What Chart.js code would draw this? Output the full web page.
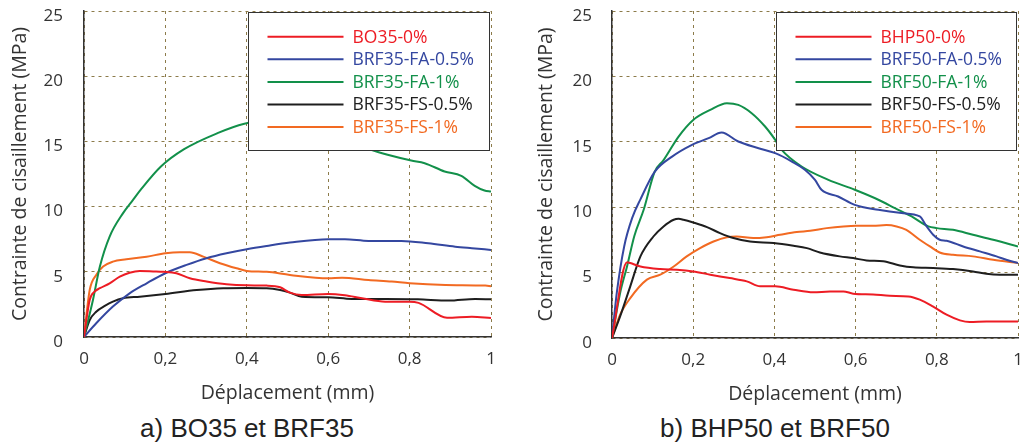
<!DOCTYPE html>
<html>
<head>
<meta charset="utf-8">
<script src="https://cdn.jsdelivr.net/npm/chart.js@4.4.1/dist/chart.umd.min.js"></script>
<style>
  html, body { margin: 0; padding: 0; background: #fff; }
  body { width: 1023px; height: 445px; position: relative; overflow: hidden; }
  .box { position: absolute; top: 0; height: 410px; }
  .cap { position: absolute; font-family: "Liberation Sans", Arial, sans-serif; font-size: 26px; color: #222;
         text-align: center; width: 400px; line-height: 30px; top: 413px; white-space: nowrap; }
</style>
</head>
<body>
<div class="box" style="left:0;width:510px"><canvas id="c1"></canvas></div>
<div class="box" style="left:520px;width:503px"><canvas id="c2"></canvas></div>
<div class="cap" style="left:47px">a) BO35 et BRF35</div>
<div class="cap" style="left:575px">b) BHP50 et BRF50</div>
<script>
// ---- Data ----
const xTickValues = [0, 0.2, 0.4, 0.6, 0.8, 1];
const yTickValues = [0, 5, 10, 15, 20, 25];
const xTitle = 'Déplacement (mm)';
const yTitle = 'Contrainte de cisaillement (MPa)';

// Chart a) BO35 et BRF35
const a_labels = ['BO35-0%', 'BRF35-FA-0.5%', 'BRF35-FA-1%', 'BRF35-FS-0.5%', 'BRF35-FS-1%'];
const a_BO35_x = [0, 0.014, 0.026, 0.039, 0.063, 0.088, 0.112, 0.137, 0.17, 0.195, 0.227, 0.26, 0.301, 0.35, 0.4, 0.449, 0.482, 0.506, 0.535, 0.6, 0.641, 0.683, 0.74, 0.8, 0.822, 0.892, 0.953, 1.0];
const a_BO35_y = [0, 2.84, 3.48, 3.74, 4.12, 4.63, 4.93, 5.06, 5.03, 5.0, 4.89, 4.5, 4.25, 4.04, 3.96, 3.94, 3.81, 3.4, 3.22, 3.3, 3.2, 2.97, 2.71, 2.71, 2.62, 1.48, 1.56, 1.45];
const a_FA05_x = [0, 0.03, 0.071, 0.112, 0.154, 0.2, 0.252, 0.301, 0.35, 0.4, 0.449, 0.506, 0.6, 0.641, 0.699, 0.78, 0.846, 0.912, 0.953, 1.0];
const a_FA05_y = [0, 1.05, 2.33, 3.35, 4.12, 4.89, 5.53, 6.04, 6.42, 6.73, 6.98, 7.24, 7.5, 7.5, 7.37, 7.37, 7.19, 6.93, 6.81, 6.68];
const a_FA1_x = [0, 0.022, 0.039, 0.063, 0.096, 0.12, 0.139, 0.189, 0.246, 0.328, 0.394, 0.45, 0.5, 0.55, 0.6, 0.65, 0.705, 0.746, 0.804, 0.837, 0.886, 0.927, 0.96, 0.984, 1.0];
const a_FA1_y = [0, 2.84, 5.4, 7.7, 9.5, 10.5, 11.28, 13.07, 14.4, 15.63, 16.35, 16.6, 16.3, 15.8, 15.3, 14.8, 14.35, 13.97, 13.53, 13.33, 12.69, 12.36, 11.59, 11.23, 11.15];
const a_FS05_x = [0, 0.014, 0.03, 0.051, 0.071, 0.096, 0.137, 0.2, 0.277, 0.342, 0.4, 0.449, 0.482, 0.506, 0.535, 0.6, 0.658, 0.74, 0.82, 0.896, 0.961, 1.0];
const a_FS05_y = [0, 1.3, 1.94, 2.38, 2.71, 2.97, 3.09, 3.3, 3.6, 3.74, 3.76, 3.74, 3.6, 3.4, 3.09, 3.05, 2.92, 2.92, 2.89, 2.79, 2.92, 2.89];
const a_FS1_x = [0, 0.014, 0.03, 0.047, 0.071, 0.104, 0.154, 0.2, 0.235, 0.26, 0.293, 0.334, 0.375, 0.4, 0.449, 0.506, 0.6, 0.634, 0.699, 0.756, 0.8, 0.888, 0.986, 1.0];
const a_FS1_y = [0, 3.6, 4.76, 5.4, 5.78, 5.96, 6.16, 6.42, 6.5, 6.5, 6.16, 5.66, 5.27, 5.07, 5.0, 4.76, 4.5, 4.55, 4.37, 4.25, 4.12, 3.99, 3.94, 3.9];

// Chart b) BHP50 et BRF50
const b_labels = ['BHP50-0%', 'BRF50-FA-0.5%', 'BRF50-FA-1%', 'BRF50-FS-0.5%', 'BRF50-FS-1%'];
const b_BHP50_x = [0, 0.037, 0.045, 0.07, 0.119, 0.16, 0.2, 0.242, 0.29, 0.332, 0.365, 0.402, 0.447, 0.496, 0.537, 0.57, 0.594, 0.643, 0.684, 0.73, 0.758, 0.79, 0.824, 0.857, 0.881, 0.922, 1.0];
const b_BHP50_y = [0, 5.8, 5.73, 5.47, 5.27, 5.22, 5.09, 4.84, 4.58, 4.33, 3.95, 3.95, 3.69, 3.49, 3.56, 3.56, 3.39, 3.33, 3.23, 3.18, 2.93, 2.42, 1.78, 1.35, 1.22, 1.27, 1.27];
const b_FA05_x = [0, 0.012, 0.03, 0.05, 0.07, 0.105, 0.148, 0.197, 0.238, 0.27, 0.311, 0.361, 0.402, 0.443, 0.475, 0.5, 0.516, 0.557, 0.598, 0.656, 0.713, 0.758, 0.775, 0.791, 0.807, 0.824, 0.865, 0.906, 0.947, 0.971, 1.0];
const b_FA05_y = [0, 3.5, 7.0, 9.2, 10.6, 12.7, 13.87, 14.77, 15.28, 15.71, 15.02, 14.51, 14.13, 13.49, 12.86, 12.09, 11.33, 10.82, 10.18, 9.8, 9.55, 9.29, 8.53, 7.89, 7.51, 7.43, 7.0, 6.62, 6.24, 5.98, 5.73];
const b_FA1_x = [0, 0.02, 0.037, 0.055, 0.078, 0.105, 0.127, 0.164, 0.2, 0.242, 0.283, 0.311, 0.344, 0.377, 0.402, 0.418, 0.467, 0.533, 0.598, 0.656, 0.697, 0.738, 0.779, 0.8, 0.84, 0.889, 0.939, 1.0];
const b_FA1_y = [0, 3.44, 5.47, 7.8, 9.8, 12.7, 13.6, 15.4, 16.67, 17.44, 17.95, 17.82, 17.19, 16.17, 15.15, 14.38, 13.11, 12.09, 11.33, 10.57, 9.93, 9.29, 8.53, 8.4, 8.27, 7.89, 7.51, 7.0];
const b_FS05_x = [0, 0.02, 0.045, 0.07, 0.102, 0.127, 0.152, 0.164, 0.176, 0.2, 0.234, 0.266, 0.299, 0.34, 0.398, 0.447, 0.48, 0.512, 0.561, 0.594, 0.627, 0.668, 0.709, 0.742, 0.791, 0.84, 0.889, 0.922, 0.955, 1.0];
const b_FS05_y = [0, 1.65, 3.95, 6.24, 7.76, 8.53, 9.04, 9.11, 9.04, 8.83, 8.48, 8.02, 7.64, 7.38, 7.26, 7.05, 6.87, 6.54, 6.24, 6.11, 5.93, 5.86, 5.55, 5.4, 5.35, 5.27, 5.09, 4.91, 4.84, 4.84];
const b_FS1_x = [0, 0.02, 0.045, 0.086, 0.119, 0.152, 0.184, 0.217, 0.25, 0.283, 0.307, 0.348, 0.381, 0.414, 0.455, 0.488, 0.529, 0.57, 0.602, 0.643, 0.676, 0.701, 0.725, 0.758, 0.783, 0.807, 0.84, 0.889, 0.939, 1.0];
const b_FS1_y = [0, 1.78, 3.05, 4.46, 4.84, 5.47, 6.24, 6.87, 7.38, 7.71, 7.76, 7.64, 7.71, 7.89, 8.1, 8.2, 8.4, 8.53, 8.58, 8.58, 8.63, 8.53, 8.27, 7.51, 7.0, 6.54, 6.36, 6.24, 5.98, 5.73];

const seriesColors = ['#ED1C24', '#3447A0', '#12904A', '#1E1E1E', '#F26A22'];

// ---- Helpers ----
const pts = (xs, ys) => xs.map((x, i) => ({x: x, y: ys[i]}));
const FONT = '"Open Sans", Lato, sans-serif';

const insideLegend = {
  id: 'insideLegend',
  afterDatasetsDraw(chart, args, opts) {
    const {ctx, chartArea: a} = chart;
    const x0 = Math.round(a.left + opts.leftFrac * (a.right - a.left)) + 0.5;
    const x1 = Math.round(a.right - opts.rightGap) + 0.5;
    const y0 = Math.round(a.top) + 1.5;
    const y1 = Math.round(a.top + opts.height) + 0.5;
    ctx.save();
    ctx.fillStyle = '#fff';
    ctx.fillRect(x0, y0, x1 - x0, y1 - y0);
    ctx.strokeStyle = '#333';
    ctx.lineWidth = 1;
    ctx.strokeRect(x0, y0, x1 - x0, y1 - y0);
    ctx.font = '17.5px ' + FONT;
    ctx.textBaseline = 'middle';
    chart.data.datasets.forEach((ds, i) => {
      const yy = a.top + opts.firstRow + i * opts.rowGap;
      ctx.strokeStyle = ds.borderColor;
      ctx.lineWidth = 2;
      ctx.beginPath();
      ctx.moveTo(x0 + 19, yy);
      ctx.lineTo(x0 + 95, yy);
      ctx.stroke();
      ctx.fillStyle = ds.borderColor;
      ctx.fillText(ds.label, x0 + 104, yy + 1);
    });
    ctx.restore();
  }
};

function makeChart(id, labels, xsList, ysList, cfg) {
  const datasets = labels.map((lab, i) => ({
    label: lab,
    data: pts(xsList[i], ysList[i]),
    borderColor: seriesColors[i],
    backgroundColor: seriesColors[i],
    borderWidth: 2,
    pointRadius: 0,
    cubicInterpolationMode: 'monotone',
    fill: false
  }));
  const gridColor = '#8C7B4A';
  return new Chart(document.getElementById(id), {
    type: 'line',
    data: { datasets: datasets },
    options: {
      responsive: true,
      maintainAspectRatio: false,
      animation: false,
      layout: { padding: { left: 0, top: 11, right: cfg.padRight, bottom: 0 } },
      plugins: {
        legend: { display: false },
        tooltip: { enabled: false },
        insideLegend: { leftFrac: 0.403, rightGap: 2, height: 139, firstRow: 25.7, rowGap: 22.6 }
      },
      scales: {
        x: {
          type: 'linear', min: 0, max: 1,
          afterBuildTicks: (s) => { s.ticks = xTickValues.map(v => ({value: v})); },
          afterFit: (s) => { s.height = cfg.xHeight; s.paddingLeft = 0; s.paddingRight = 0; },
          ticks: {
            padding: 12, color: '#333', font: { family: FONT, size: 17 },
            callback: (v) => String(v).replace('.', ',')
          },
          grid: { color: gridColor, lineWidth: 1, drawTicks: false, tickLength: 0 },
          border: { display: true, color: '#333', width: 1.5, dash: [3, 4] },
          title: { display: true, text: xTitle, color: '#333', font: { family: FONT, size: 19.5 }, padding: { top: 0, bottom: cfg.xTitlePad } }
        },
        y: {
          type: 'linear', min: 0, max: 25,
          afterBuildTicks: (s) => { s.ticks = yTickValues.map(v => ({value: v})); },
          afterFit: (s) => { s.width = cfg.yWidth; s.paddingTop = 0; s.paddingBottom = 0; },
          ticks: { padding: cfg.yTickPad, color: '#333', labelOffset: 5, font: { family: FONT, size: 17 } },
          grid: { color: gridColor, lineWidth: 1, drawTicks: false, tickLength: 0 },
          border: { display: true, color: '#333', width: 1.5, dash: [3, 4] },
          title: { display: true, text: yTitle, color: '#333', font: { family: FONT, size: 19.5 }, padding: { top: cfg.yTitlePad, bottom: 0 } }
        }
      }
    },
    plugins: [insideLegend]
  });
}

makeChart('c1', a_labels,
  [a_BO35_x, a_FA05_x, a_FA1_x, a_FS05_x, a_FS1_x],
  [a_BO35_y, a_FA05_y, a_FA1_y, a_FS05_y, a_FS1_y],
  { padRight: 19, xHeight: 73, yWidth: 84, yTickPad: 21, yTitlePad: 9, xTitlePad: 5 });

makeChart('c2', b_labels,
  [b_BHP50_x, b_FA05_x, b_FA1_x, b_FS05_x, b_FS1_x],
  [b_BHP50_y, b_FA05_y, b_FA1_y, b_FS05_y, b_FS1_y],
  { padRight: 5, xHeight: 72, yWidth: 92, yTickPad: 20, yTitlePad: 15, xTitlePad: 4 });
</script>
</body>
</html>
